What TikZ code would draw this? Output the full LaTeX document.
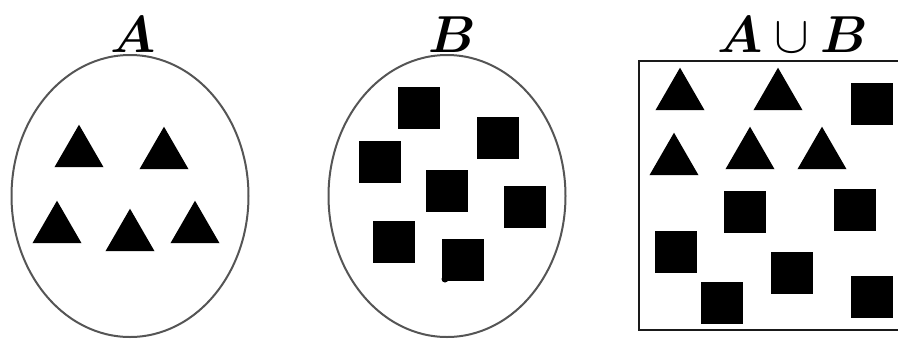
\documentclass[tikz,border=0pt]{standalone}
\usepackage{amsmath,amssymb}
\usepackage{bm}
\usetikzlibrary{positioning, shapes.geometric}
\definecolor{setGray}{HTML}{555555}
\definecolor{setDark}{HTML}{1A1A1A}

\begin{document}
\begin{tikzpicture}[
  x=1pt, y=-1pt,
  setoval/.style={
    ellipse, draw=setGray, line width=2pt,
    minimum width=237pt, minimum height=282pt,
    inner sep=0pt, outer sep=0pt
  },
  tri/.style={
    regular polygon, regular polygon sides=3,
    minimum size=56.6pt, inner sep=0pt, outer sep=0pt,
    fill=black
  },
  sq/.style={
    rectangle, minimum size=42pt,
    inner sep=0pt, outer sep=0pt, fill=black
  },
  setlabel/.style={anchor=base, scale=5.2, inner sep=0pt},
]
\useasboundingbox (0,0) rectangle (898,338);

% === SET A ===
\node[setoval] (setA) at (130,196) {};
\node[setlabel] (labA) at (133,52) {$\bm{A}$};

\node[tri] (a-t1) at (79,153) {};
\node[tri] (a-t2) at (164,155) {};
\node[tri] (a-t3) at (57,229) {};
\node[tri] (a-t4) at (130,237) {};
\node[tri] (a-t5) at (195,229) {};

% === SET B ===
\node[setoval] (setB) at (447,196) {};
\node[setlabel] (labB) at (452,52) {$\bm{B}$};

\node[sq] (b-s1) at (419,108) {};
\node[sq] (b-s2) at (498,138) {};
\node[sq] (b-s3) at (380,162) {};
\node[sq] (b-s4) at (447,191) {};
\node[sq] (b-s5) at (525,207) {};
\node[sq] (b-s6) at (394,242) {};
\node[sq] (b-s7) at (463,260) {};
\node[circle, fill=black, minimum size=7pt, inner sep=0pt] (b-dot) at (445,279) {};

% === UNION ===
\coordinate (u-tr) at (898,61);
\coordinate (u-tl) at (639,61);
\coordinate (u-bl) at (639,330);
\coordinate (u-br) at (898,330);
\draw[setDark, line width=2.5pt] (u-tr) -- (u-tl) -- (u-bl) -- (u-br);
\node[setlabel] (labU) at (793,52) {$\bm{A}\cup\bm{B}$};

\node[tri] (u-t1) at (680,96) {};
\node[tri] (u-t2) at (778,96) {};
\node[tri] (u-t3) at (674,161) {};
\node[tri] (u-t4) at (750,155) {};
\node[tri] (u-t5) at (822,155) {};

\node[sq] (u-s1) at (872,104) {};
\node[sq] (u-s2) at (745,212) {};
\node[sq] (u-s3) at (855,210) {};
\node[sq] (u-s4) at (676,252) {};
\node[sq] (u-s5) at (792,273) {};
\node[sq] (u-s6) at (722,303) {};
\node[sq] (u-s7) at (872,297) {};

\end{tikzpicture}
\end{document}
